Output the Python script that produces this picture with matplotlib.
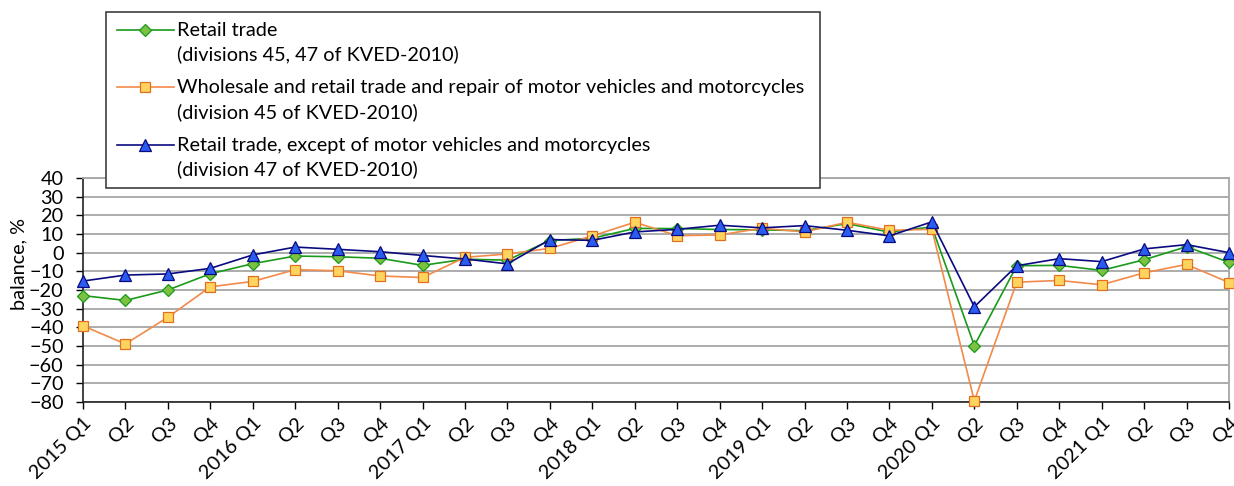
import matplotlib
matplotlib.use("Agg")
import matplotlib.pyplot as plt
from matplotlib.legend_handler import HandlerLine2D

plt.rcParams['font.family'] = ['Lato', 'DejaVu Sans']

quarters = ["2015 Q1", "Q2", "Q3", "Q4", "2016 Q1", "Q2", "Q3", "Q4",
            "2017 Q1", "Q2", "Q3", "Q4", "2018 Q1", "Q2", "Q3", "Q4",
            "2019 Q1", "Q2", "Q3", "Q4", "2020 Q1", "Q2", "Q3", "Q4",
            "2021 Q1", "Q2", "Q3", "Q4"]

retail_45_47 = [-23, -25.6, -20, -11.3, -5.9, -1.8, -2.2, -3, -6.8, -3.5, -4, 6.5,
                7.7, 13, 12.9, 12.4, 12.2, 11.8, 15.6, 11, 13.8, -49.8, -7, -6.8,
                -9.5, -3.8, 3.2, -5.2]
motor_45 = [-39.2, -48.9, -34.6, -18.3, -15.4, -9.1, -9.7, -12.5, -13.3, -2.5, -0.7, 2.3,
            9, 16.3, 9.1, 9.5, 13.1, 11.1, 16.3, 12, 12.5, -79.4, -15.8, -14.9,
            -17.2, -10.8, -6.3, -16]
retail_47 = [-15.2, -12, -11.4, -8.4, -1.2, 3, 1.8, 0.5, -1.5, -3.4, -6, 7,
             6.6, 11.1, 12.5, 14.7, 13.3, 14.5, 12, 9, 16.5, -29, -7, -3.2,
             -4.8, 2, 4.3, 0]

labels = ["Retail trade\n(divisions 45, 47 of KVED-2010)",
          "Wholesale and retail trade and repair of motor vehicles and motorcycles\n"
          "(division 45 of KVED-2010)",
          "Retail trade, except of motor vehicles and motorcycles\n"
          "(division 47 of KVED-2010)"]

FS = 14.3


class UpHandler(HandlerLine2D):
    """Line handle aligned with the first line of a two-line label."""
    def __init__(self, dx, dy, **kw):
        super().__init__(**kw)
        self.dx = dx
        self.dy = dy

    def create_artists(self, legend, orig_handle, xdescent, ydescent,
                       width, height, fontsize, trans):
        arts = super().create_artists(legend, orig_handle, xdescent, ydescent,
                                      width, height, fontsize, trans)
        for a in arts:
            xd, yd = a.get_data()
            x0, x1 = min(xd), max(xd)
            new_x = [x0 + self.dx + (v - x0) * (x1 - x0 - self.dx) / (x1 - x0) for v in xd]
            a.set_data(new_x, [v + self.dy for v in yd])
        return arts


fig = plt.figure(figsize=(12.34, 4.86), dpi=100)
ax = fig.add_axes([83/1234, 84/486, 1146/1234, 224/486])

x = list(range(len(quarters)))
l1, = ax.plot(x, retail_45_47, color='#1a9a1a', lw=1.2, marker='D', ms=6,
              mfc='#7cc142', mec='#1a9a1a', mew=0.9, clip_on=False, zorder=3)
l2, = ax.plot(x, motor_45, color='#f28a4a', lw=1.2, marker='s', ms=7,
              mfc='#ffd45e', mec='#e07020', mew=0.9, clip_on=False, zorder=3)
l3, = ax.plot(x, retail_47, color='#0a0a80', lw=1.2, marker='^', ms=9,
              mfc='#2a5cf0', mec='#0a0a80', mew=0.9, clip_on=False, zorder=4)

ax.set_xlim(0, len(quarters) - 1)
ax.set_ylim(-80, 40)
ax.set_yticks(range(-80, 41, 10))
ax.set_xticks(x)
ax.set_xticklabels(quarters, rotation=45, ha='right', va='top',
                   rotation_mode='anchor', fontsize=FS)
ax.tick_params(axis='y', labelsize=FS, length=5, width=1, direction='out', pad=9)
ax.tick_params(axis='x', length=5, width=1, direction='out', pad=4)
ax.grid(axis='y', color='#a6a6a6', lw=1.3)
ax.set_axisbelow(True)
for s in ['top', 'right']:
    ax.spines[s].set_color('#a6a6a6')
    ax.spines[s].set_linewidth(1.3)
for s in ['left', 'bottom']:
    ax.spines[s].set_color('#222222')
    ax.spines[s].set_linewidth(1.2)
ax.set_ylabel("balance, %", fontsize=FS)
ax.yaxis.set_label_coords((27 - 83) / 1146, (402 - 264) / 224)

hmap = {h: UpHandler(dx=1, dy=9.5) for h in (l1, l2, l3)}
leg = fig.legend([l1, l2, l3], labels, loc='upper left',
                 bbox_to_anchor=(106/1234, 1 - 188/486, (820 - 106)/1234, 176/486),
                 bbox_transform=fig.transFigure, mode='expand',
                 borderaxespad=0, fancybox=False, edgecolor='#404040', framealpha=1,
                 fontsize=FS, handlelength=2.9, handletextpad=0.15,
                 labelspacing=0.8, borderpad=0.5, handler_map=hmap)
leg.get_frame().set_linewidth(1.2)
for t in leg.get_texts():
    t.set_linespacing(1.45)

fig.savefig("out.png", dpi=100)
